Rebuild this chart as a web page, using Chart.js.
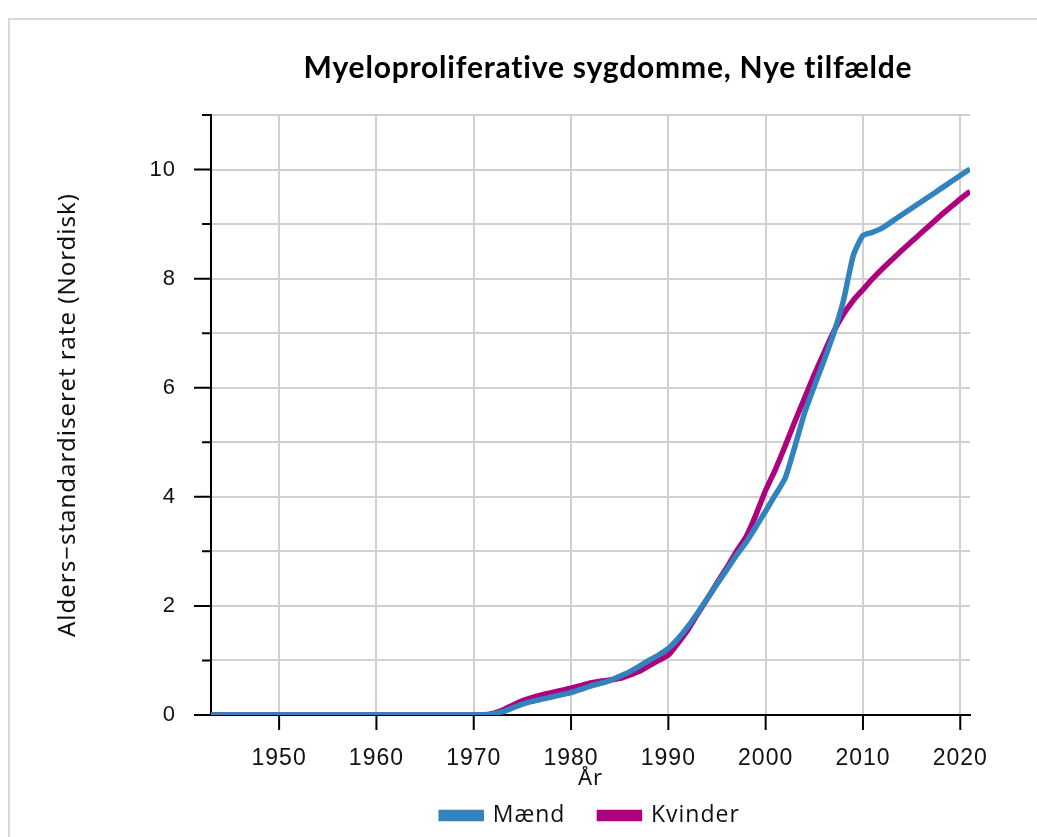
<!DOCTYPE html>
<html>
<head>
<meta charset="utf-8">
<script src="https://cdn.jsdelivr.net/npm/chart.js@4"></script>
<style>
  body { margin: 0; background: #fff; overflow: hidden; }
  #frame { position: absolute; left: 8px; top: 18px; width: 1100px; height: 900px; border: 2px solid #d9d9d9; }
  #chart { position: absolute; left: 0; top: 0; }
</style>
</head>
<body>
<div id="frame"></div>
<canvas id="chart" width="1037" height="837"></canvas>
<script>
// Data

const years = [];
for (let y = 1943; y <= 2021; y++) years.push(y);

const maend = [
  0, 0, 0, 0, 0, 0, 0, 0, 0, 0,           // 1943-1952
  0, 0, 0, 0, 0, 0, 0, 0, 0, 0,           // 1953-1962
  0, 0, 0, 0, 0, 0, 0, 0, 0,              // 1963-1971
  0.02, 0.06, 0.13, 0.2, 0.25, 0.29, 0.33, 0.37, 0.41,   // 1972-1980
  0.47, 0.53, 0.58, 0.63, 0.71, 0.79, 0.89, 1.0, 1.1, 1.22, // 1981-1990
  1.4, 1.62, 1.87, 2.13, 2.4, 2.66, 2.93, 3.17, 3.45, 3.74, // 1991-2000
  4.04, 4.34, 4.92, 5.54, 6.03, 6.5, 7.0, 7.6, 8.42, 8.79,  // 2001-2010
  8.85, 8.93, 9.05, 9.17, 9.29, 9.41, 9.53, 9.65, 9.77, 9.89, // 2011-2020
  10.01                                                     // 2021
];

const kvinder = [
  0, 0, 0, 0, 0, 0, 0, 0, 0, 0,
  0, 0, 0, 0, 0, 0, 0, 0, 0, 0,
  0, 0, 0, 0, 0, 0, 0, 0, 0,
  0.03, 0.09, 0.18, 0.26, 0.32, 0.37, 0.41, 0.45, 0.49,
  0.54, 0.59, 0.62, 0.64, 0.67, 0.73, 0.8, 0.9, 1.0, 1.1,
  1.32, 1.56, 1.85, 2.13, 2.42, 2.7, 3.0, 3.27, 3.67, 4.12,
  4.5, 4.93, 5.38, 5.81, 6.24, 6.64, 7.03, 7.35, 7.6, 7.8,
  8.0, 8.18, 8.35, 8.52, 8.68, 8.84, 9.0, 9.16, 9.31, 9.46,
  9.6
];

const xTicks = [1950, 1960, 1970, 1980, 1990, 2000, 2010, 2020];
const yTicks = [0, 1, 2, 3, 4, 5, 6, 7, 8, 9, 10, 11];

const titleText = "Myeloproliferative sygdomme, Nye tilfælde";

// the reference text is a little spaced out
const spacing = {
  id: "spacing",
  beforeLayout(chart) { chart.ctx.letterSpacing = "1px"; },
  beforeDraw(chart) { chart.ctx.letterSpacing = "1px"; }
};

// Tick marks (long on labelled ticks, short on the others)
const tickMarks = {
  id: "tickMarks",
  afterDraw(chart) {
    const { ctx, chartArea } = chart;
    const x = chart.scales.x;
    const y = chart.scales.y;
    ctx.save();
    ctx.strokeStyle = "#000";
    ctx.lineWidth = 2;
    ctx.beginPath();
    y.ticks.forEach(t => {
      const py = y.getPixelForValue(t.value);
      const len = t.value % 2 === 0 ? 17 : 9;
      ctx.moveTo(chartArea.left - len, py);
      ctx.lineTo(chartArea.left, py);
    });
    x.ticks.forEach(t => {
      const px = x.getPixelForValue(t.value);
      ctx.moveTo(px, chartArea.bottom);
      ctx.lineTo(px, chartArea.bottom + 15);
    });
    ctx.stroke();
    ctx.restore();
  }
};

const chartTitle = {
  id: "chartTitle",
  afterDraw(chart) {
    const ctx = chart.ctx;
    ctx.save();
    ctx.font = "bold 30px Lato";
    ctx.letterSpacing = "0.8px";
    ctx.fillStyle = "#000";
    ctx.textAlign = "center";
    ctx.textBaseline = "middle";
    ctx.fillText(titleText, 608, 68);
    ctx.restore();
  }
};

const ctx = document.getElementById("chart").getContext("2d");
const myChart = new Chart(ctx, {
  type: "line",
  data: {
    labels: years,
    datasets: [
      {
        label: "Mænd",
        data: maend,
        borderColor: "#3182bd",
        backgroundColor: "#3182bd",
        borderWidth: 5.5,
        pointRadius: 0,
        tension: 0.2,
        clip: 0,
      },
      {
        label: "Kvinder",
        data: kvinder,
        borderColor: "#ae017e",
        backgroundColor: "#ae017e",
        borderWidth: 5.5,
        pointRadius: 0,
        tension: 0.2,
        clip: 0,
      },
    ],
  },
  options: {
    responsive: false,
    animation: false,
    layout: { padding: { top: 115, right: 67, left: 0, bottom: 0 } },
    plugins: {
      title: { display: false },
      tooltip: { enabled: false },
      legend: {
        position: "bottom",
        fullSize: false,
        labels: {
          boxWidth: 40,
          boxHeight: 6,
          padding: 34,
          color: "#111",
          font: { family: "'Open Sans'", size: 23 },
        },
      },
    },
    scales: {
      x: {
        type: "linear",
        min: 1943,
        max: 2021,
        afterBuildTicks: s => { s.ticks = xTicks.map(v => ({ value: v })); },
        afterFit: s => { s.height = 55; },
        grid: { color: "#d0d0d0", lineWidth: 2, drawTicks: false },
        border: { color: "#000", width: 2 },
        ticks: {
          padding: 30,
          color: "#111",
          maxRotation: 0,
          font: { family: "'Liberation Sans'", size: 23 },
          callback: v => String(v),
        },
        title: {
          display: true,
          text: "År",
          color: "#111",
          padding: { top: 0, bottom: -22 },
          font: { family: "'Noto Sans'", size: 22 },
        },
      },
      y: {
        min: 0,
        max: 11,
        afterBuildTicks: s => { s.ticks = yTicks.map(v => ({ value: v })); },
        afterFit: s => { s.width = 211; },
        grid: { color: "#d0d0d0", lineWidth: 2, drawTicks: false },
        border: { color: "#000", width: 2 },
        ticks: {
          padding: 35,
          color: "#111",
          font: { family: "'Liberation Sans'", size: 22 },
          callback: v => (v % 2 === 0 ? String(v) : ""),
        },
        title: {
          display: true,
          text: "Alders\u2212standardiseret rate (Nordisk)",
          color: "#111",
          padding: { top: 54, bottom: 0 },
          font: { family: "'Noto Sans'", size: 24 },
        },
      },
    },
  },
  plugins: [spacing, tickMarks, chartTitle],
});
</script>
</body>
</html>
